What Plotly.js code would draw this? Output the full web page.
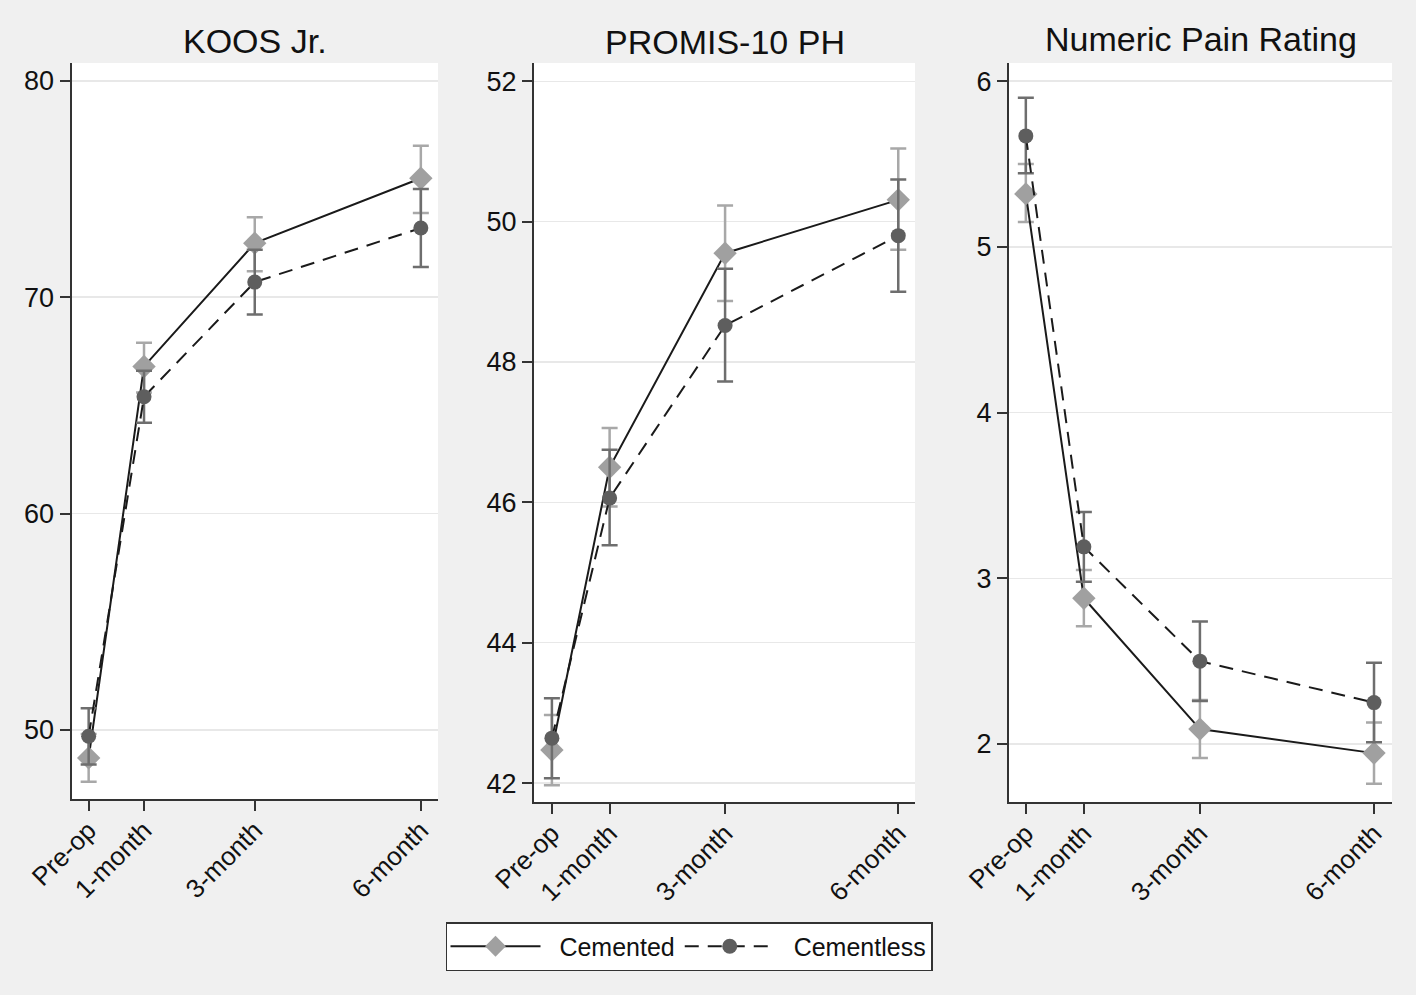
<!DOCTYPE html>
<html><head><meta charset="utf-8">
<script src="https://cdn.plot.ly/plotly-3.0.1.min.js"></script>
<style>html,body{margin:0;padding:0;background:#f0f0f0;} #chart{width:1416px;height:995px;}</style>
</head><body><div id="chart"></div>
<script>
// ---- data ----
const timepoints = [0, 1, 3, 6];
const tickLabels = ['Pre-op', '1-month', '3-month', '6-month'];
const panelTitles = ['KOOS Jr.', 'PROMIS-10 PH', 'Numeric Pain Rating'];
const groupNames = ['Cemented', 'Cementless'];

const koosCemented     = [48.7, 66.8, 72.5, 75.5];
const koosCementedLo   = [47.6, 65.6, 71.2, 73.9];
const koosCementedHi   = [49.8, 67.9, 73.7, 77.0];
const koosCementless   = [49.7, 65.4, 70.7, 73.2];
const koosCementlessLo = [48.4, 64.2, 69.2, 71.4];
const koosCementlessHi = [51.0, 66.6, 72.2, 75.0];

const promisCemented     = [42.47, 46.50, 49.55, 50.31];
const promisCementedLo   = [41.97, 45.94, 48.87, 49.60];
const promisCementedHi   = [42.97, 47.06, 50.23, 51.04];
const promisCementless   = [42.64, 46.06, 48.52, 49.80];
const promisCementlessLo = [42.07, 45.39, 47.72, 49.00];
const promisCementlessHi = [43.21, 46.75, 49.33, 50.60];

const painCemented     = [5.32, 2.88, 2.09, 1.945];
const painCementedLo   = [5.15, 2.71, 1.915, 1.76];
const painCementedHi   = [5.50, 3.05, 2.265, 2.13];
const painCementless   = [5.67, 3.19, 2.50, 2.25];
const painCementlessLo = [5.445, 2.98, 2.26, 2.01];
const painCementlessHi = [5.90, 3.40, 2.74, 2.49];

const yTicks = [[50, 60, 70, 80], [42, 44, 46, 48, 50, 52], [2, 3, 4, 5, 6]];

// ---- build ----
const panels = [
  {c: koosCemented, cLo: koosCementedLo, cHi: koosCementedHi, u: koosCementless, uLo: koosCementlessLo, uHi: koosCementlessHi},
  {c: promisCemented, cLo: promisCementedLo, cHi: promisCementedHi, u: promisCementless, uLo: promisCementlessLo, uHi: promisCementlessHi},
  {c: painCemented, cLo: painCementedLo, cHi: painCementedHi, u: painCementless, uLo: painCementlessLo, uHi: painCementlessHi}
];
const W = 1416, H = 995;
const xDom = [[71.5, 438], [534, 915], [1009, 1392]];
const yDom = [[799, 63], [802, 63], [802, 63]];
const xRanges = [[-0.31, 6.31], [-0.31, 6.29], [-0.29, 6.31]];
const yRanges = [[46.8, 80.83], [41.73, 52.26], [1.65, 6.11]];
const titleY = [41, 42, 39];

const cemColor = '#a0a0a0', cemErr = '#a8a8a8';
const cmlColor = '#5e5e5e', cmlErr = '#6e6e6e';
const fontFam = 'Liberation Sans, Arial, sans-serif';
const pad = '\u00a0\u00a0';

const diff = (a, b) => a.map((v, i) => v - b[i]);
const traces = [];
const layout = {
  width: W, height: H,
  paper_bgcolor: '#f0f0f0', plot_bgcolor: '#ffffff',
  margin: {l: 0, r: 0, t: 0, b: 0},
  font: {family: fontFam, color: '#111', size: 26},
  showlegend: true,
  legend: {
    orientation: 'h', x: 689 / W, xanchor: 'center', y: 1 - 922 / H, yanchor: 'top',
    bgcolor: '#ffffff', bordercolor: '#333', borderwidth: 1.5,
    font: {size: 25, family: fontFam, color: '#111'}, itemwidth: 90
  },
  annotations: []
};

panels.forEach((p, i) => {
  const ax = i === 0 ? '' : String(i + 1);
  const xa = 'x' + ax, ya = 'y' + ax;
  traces.push({
    x: timepoints, y: p.c, name: pad + groupNames[0], xaxis: xa, yaxis: ya,
    mode: 'lines+markers', showlegend: i === 0, legendgroup: 'c',
    line: {color: '#1a1a1a', width: 2},
    marker: {symbol: 'diamond', size: 18, color: cemColor},
    error_y: {type: 'data', symmetric: false, array: diff(p.cHi, p.c), arrayminus: diff(p.c, p.cLo),
              color: cemErr, thickness: 2.5, width: 8}
  });
  traces.push({
    x: timepoints, y: p.u, name: pad + groupNames[1], xaxis: xa, yaxis: ya,
    mode: 'lines+markers', showlegend: i === 0, legendgroup: 'u',
    line: {color: '#1a1a1a', width: 2, dash: '14px,9px'},
    marker: {symbol: 'circle', size: 15, color: cmlColor},
    error_y: {type: 'data', symmetric: false, array: diff(p.uHi, p.u), arrayminus: diff(p.u, p.uLo),
              color: cmlErr, thickness: 2.5, width: 8}
  });
  layout['xaxis' + ax] = {
    domain: [xDom[i][0] / W, xDom[i][1] / W], anchor: ya, range: xRanges[i],
    tickmode: 'array', tickvals: timepoints, ticktext: tickLabels, tickangle: -45,
    showgrid: false, zeroline: false, showline: true, linecolor: '#333', linewidth: 2,
    ticks: 'outside', ticklen: 10, tickwidth: 2, tickcolor: '#333', ticklabelstandoff: -6,
    tickfont: {size: 26, family: fontFam, color: '#111'}, fixedrange: true
  };
  layout['yaxis' + ax] = {
    domain: [1 - yDom[i][0] / H, 1 - yDom[i][1] / H], anchor: xa, range: yRanges[i],
    tickmode: 'array', tickvals: yTicks[i],
    showgrid: true, gridcolor: '#e8e8e8', gridwidth: 1.5, zeroline: false,
    showline: true, linecolor: '#333', linewidth: 2,
    ticks: 'outside', ticklen: 10, tickwidth: 2, tickcolor: '#333',
    tickfont: {size: 27, family: fontFam, color: '#111'}, fixedrange: true
  };
  layout.annotations.push({
    text: panelTitles[i], xref: 'paper', yref: 'paper',
    x: (xDom[i][0] + xDom[i][1]) / 2 / W, y: 1 - titleY[i] / H,
    xanchor: 'center', yanchor: 'middle', showarrow: false,
    font: {size: 34, family: fontFam, color: '#111'}
  });
});

Plotly.newPlot('chart', traces, layout, {displayModeBar: false, staticPlot: true});
</script>
</body></html>
